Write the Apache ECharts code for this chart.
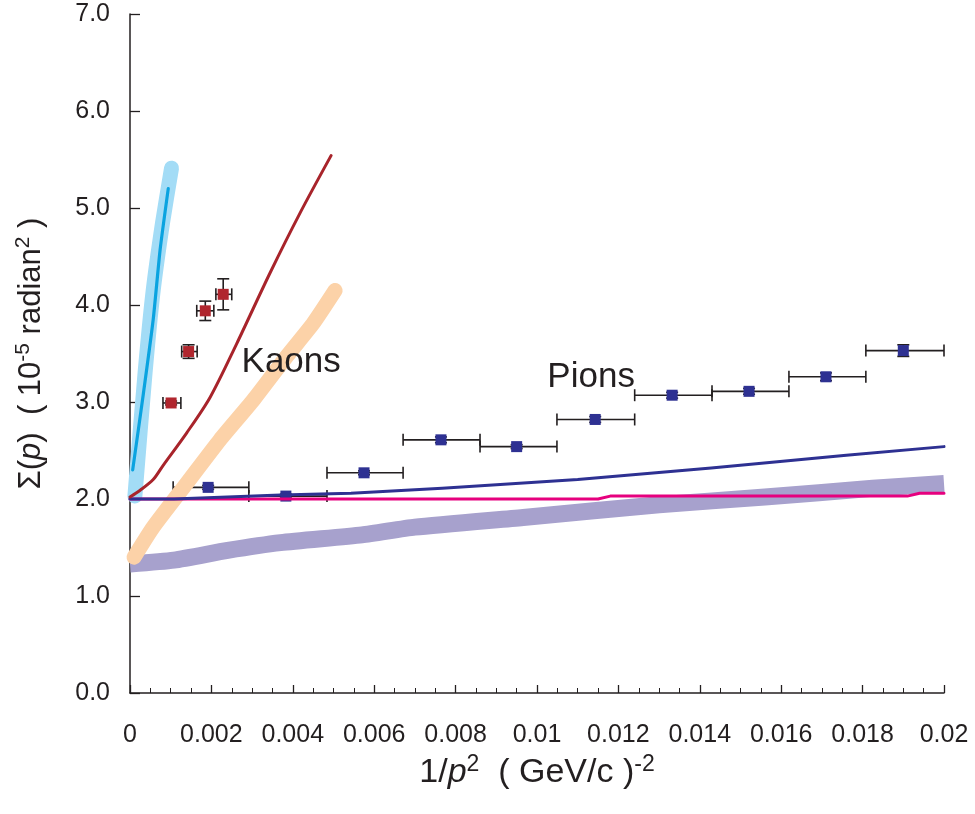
<!DOCTYPE html>
<html>
<head>
<meta charset="utf-8">
<script src="https://cdn.jsdelivr.net/npm/echarts@6/dist/echarts.min.js"></script>
<style>
  html, body { margin: 0; padding: 0; background: #fff; }
  #chart { width: 975px; height: 814px; }
</style>
</head>
<body>
<div id="chart"></div>
<script>
/* Σ(p) vs 1/p² — pion / kaon scattering width */

// ── 数据 ──
// pions: centre, x bin edges, y error
const pionX    = [0.00192, 0.00383, 0.00575, 0.00764, 0.0095, 0.01143, 0.01332, 0.01521, 0.0171, 0.019];
const pionY    = [2.12, 2.03, 2.27, 2.61, 2.54, 2.82, 3.07, 3.11, 3.26, 3.53];
const pionXLo  = [0.00106, 0.00292, 0.00484, 0.00671, 0.0086, 0.01049, 0.0124, 0.0143, 0.01619, 0.01808];
const pionXHi  = [0.00292, 0.00484, 0.00671, 0.0086, 0.01049, 0.0124, 0.0143, 0.01619, 0.01808, 0.02];
const pionYErr = [0.02, 0.02, 0.02, 0.03, 0.02, 0.03, 0.03, 0.03, 0.04, 0.06];

// kaons
const kaonX    = [0.00101, 0.00144, 0.00185, 0.00229];
const kaonY    = [2.99, 3.52, 3.94, 4.11];
const kaonXLo  = [0.00081, 0.00127, 0.00164, 0.00211];
const kaonXHi  = [0.00125, 0.00165, 0.00206, 0.0025];
const kaonYErr = [0.02, 0.07, 0.1, 0.16];

// curves  [x, y]
const bandPurple = [[0, 1.33], [0.00108, 1.37], [0.0024, 1.47], [0.0037, 1.55], [0.0057, 1.63], [0.007, 1.71],
  [0.00966, 1.81], [0.013, 1.94], [0.0156, 2.02], [0.01825, 2.11], [0.02, 2.16]];
const bandOrange = [[0.0001, 1.40], [0.00057, 1.71], [0.00139, 2.16], [0.00221, 2.61], [0.00303, 3.02],
  [0.00385, 3.47], [0.0045, 3.81], [0.00504, 4.15]];
const bandBlue = [[0.00012, 2.03], [0.00037, 3.3], [0.00057, 4.15], [0.00080, 4.85], [0.00102, 5.41]];
const lineCyan = [[0.000066, 2.30], [0.00033, 3.09], [0.00057, 3.85], [0.00074, 4.57], [0.00094, 5.2]];
const lineRed = [[0, 2.02], [0.00025, 2.09], [0.00057, 2.2], [0.00082, 2.35], [0.00139, 2.68], [0.00197, 3.05],
  [0.00262, 3.6], [0.00344, 4.33], [0.00418, 4.95], [0.00494, 5.54]];
const lineNavy = [[0, 2.0], [0.00108, 2.0], [0.0037, 2.04], [0.00543, 2.06], [0.00767, 2.11], [0.011, 2.2],
  [0.01428, 2.32], [0.0176, 2.45], [0.02, 2.54]];
const linePink = [[0, 2.0], [0.0115, 2.0], [0.0118, 2.03], [0.0191, 2.03], [0.0194, 2.06], [0.02, 2.06]];

// labels
const textLabels = [
  { name: 'Kaons', value: [0.00396, 3.41] },
  { name: 'Pions', value: [0.01133, 3.25] }
];

const xTicks = { min: 0, max: 0.02, interval: 0.002 };
const yTicks = { min: 0, max: 7, interval: 1 };

// ── 颜色 ──
const C = {
  ink: '#231f20',
  pion: '#2e3192',
  kaon: '#b0262e',
  purple: '#a7a1cd',
  orange: '#fcd2a8',
  lightBlue: '#a3dcf6',
  cyan: '#0aa3e0',
  red: '#a8242b',
  navy: '#2e3192',
  pink: '#e6007e'
};

const chart = echarts.init(document.getElementById('chart'));

function errorBars(xs, ys, lo, hi, ye) {
  return xs.map((x, i) => [x, ys[i], lo[i], hi[i], ys[i] - ye[i], ys[i] + ye[i]]);
}

function renderErr(params, api) {
  const c = api.coord([api.value(0), api.value(1)]);
  const l = api.coord([api.value(2), api.value(1)]);
  const r = api.coord([api.value(3), api.value(1)]);
  const b = api.coord([api.value(0), api.value(4)]);
  const t = api.coord([api.value(0), api.value(5)]);
  const st = { stroke: C.ink, lineWidth: 1.6 };
  const cap = 6;
  const kids = [
    { type: 'line', shape: { x1: l[0], y1: l[1], x2: r[0], y2: r[1] }, style: st },
    { type: 'line', shape: { x1: l[0], y1: l[1] - cap, x2: l[0], y2: l[1] + cap }, style: st },
    { type: 'line', shape: { x1: r[0], y1: r[1] - cap, x2: r[0], y2: r[1] + cap }, style: st },
    { type: 'line', shape: { x1: b[0], y1: b[1], x2: t[0], y2: t[1] }, style: st },
    { type: 'line', shape: { x1: c[0] - cap, y1: b[1], x2: c[0] + cap, y2: b[1] }, style: st },
    { type: 'line', shape: { x1: c[0] - cap, y1: t[1], x2: c[0] + cap, y2: t[1] }, style: st }
  ];
  return { type: 'group', children: kids };
}

function band(data, color, width, cap) {
  return {
    type: 'line', data: data, showSymbol: false, smooth: 0.2, silent: true,
    lineStyle: { color: color, width: width, cap: cap || 'round', join: 'round' }
  };
}
function thin(data, color, width, smooth) {
  return {
    type: 'line', data: data, showSymbol: false, silent: true, smooth: smooth || false,
    lineStyle: { color: color, width: width, cap: 'round', join: 'round' }
  };
}

function nameStyle(size, supSize) {
  return {
    fontSize: size, fontFamily: 'Liberation Sans', color: C.ink,
    rich: {
      it: { fontSize: size, fontStyle: 'italic', fontFamily: 'Liberation Sans', color: C.ink },
      sup: { fontSize: supSize, fontFamily: 'Liberation Sans', color: C.ink, verticalAlign: 'top', padding: [0, 0, 16, 0] }
    }
  };
}

chart.setOption({
  animation: false,
  backgroundColor: '#fff',
  grid: { left: 130, right: 31, top: 14, bottom: 121 },
  xAxis: {
    type: 'value', min: xTicks.min, max: xTicks.max, interval: xTicks.interval,
    axisLine: { lineStyle: { color: C.ink, width: 1.5 } },
    axisTick: { inside: true, length: 8, lineStyle: { color: C.ink, width: 1.3 } },
    minorTick: { show: true, splitNumber: 4, length: 5, lineStyle: { color: C.ink, width: 1 } },
    splitLine: { show: false },
    axisLabel: {
      margin: 30, fontSize: 25, color: C.ink, fontFamily: 'Liberation Sans',
      formatter: v => String(+v.toFixed(3))
    },
    name: '1/{it|p}{sup|2}  ( GeV/c ){sup|-2}',
    nameLocation: 'middle', nameGap: 47,
    nameTextStyle: nameStyle(34, 23)
  },
  yAxis: {
    type: 'value', min: yTicks.min, max: yTicks.max, interval: yTicks.interval,
    axisLine: { show: true, lineStyle: { color: C.ink, width: 1.5 } },
    axisTick: { show: true, inside: true, length: 10, lineStyle: { color: C.ink, width: 1.3 } },
    splitLine: { show: false },
    axisLabel: { margin: 20, fontSize: 25, color: C.ink, fontFamily: 'Liberation Sans', formatter: v => v.toFixed(1) },
    name: 'Σ({it|p})  ( 10{sup|-5} radian{sup|2} )',
    nameLocation: 'middle', nameGap: 80, nameRotate: 90,
    nameTextStyle: nameStyle(31, 21)
  },
  series: [
    band(bandPurple, C.purple, 17, 'butt'),
    band(bandOrange, C.orange, 15),
    band(bandBlue, C.lightBlue, 15),
    thin(linePink, C.pink, 3),
    thin(lineNavy, C.navy, 3),
    thin(lineRed, C.red, 3, 0.3),
    thin(lineCyan, C.cyan, 3.2, 0.2),
    {
      type: 'custom', renderItem: renderErr, silent: true,
      data: errorBars(pionX, pionY, pionXLo, pionXHi, pionYErr)
    },
    {
      type: 'custom', renderItem: renderErr, silent: true,
      data: errorBars(kaonX, kaonY, kaonXLo, kaonXHi, kaonYErr)
    },
    {
      type: 'scatter', symbol: 'rect', symbolSize: 11,
      itemStyle: { color: C.pion, opacity: 1 },
      data: pionX.map((x, i) => [x, pionY[i]])
    },
    {
      type: 'scatter', symbol: 'rect', symbolSize: 11,
      itemStyle: { color: C.kaon, opacity: 1 },
      data: kaonX.map((x, i) => [x, kaonY[i]])
    },
    {
      type: 'scatter', symbolSize: 0, silent: true, z: 10,
      itemStyle: { opacity: 1 },
      data: textLabels,
      label: {
        show: true, position: 'inside', formatter: '{b}',
        fontSize: 35, fontFamily: 'Liberation Sans', color: C.ink
      }
    }
  ]
});
</script>
</body>
</html>
